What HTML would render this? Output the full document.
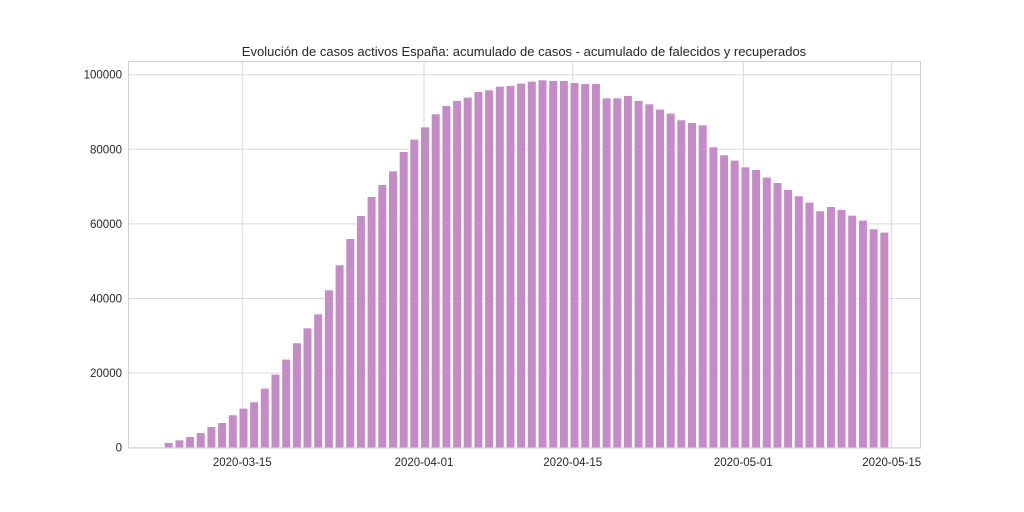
<!DOCTYPE html>
<html><head><meta charset="utf-8"><style>
body{margin:0;background:#fff;}
svg{display:block;font-family:"Liberation Sans","DejaVu Sans",sans-serif;}
</style></head><body>
<svg width="1024" height="512" viewBox="0 0 1024 512" xmlns="http://www.w3.org/2000/svg">
<rect width="1024" height="512" fill="#fff"/>
<g stroke="#d9d9d9" stroke-width="1">
<line x1="128" x2="921" y1="447.7" y2="447.7"/><line x1="128" x2="921" y1="373.1" y2="373.1"/><line x1="128" x2="921" y1="298.5" y2="298.5"/><line x1="128" x2="921" y1="223.9" y2="223.9"/><line x1="128" x2="921" y1="149.3" y2="149.3"/><line x1="128" x2="921" y1="74.7" y2="74.7"/>
<line x1="242.3" x2="242.3" y1="62" y2="448"/><line x1="424" x2="424" y1="62" y2="448"/><line x1="572.7" x2="572.7" y1="62" y2="448"/><line x1="743.3" x2="743.3" y1="62" y2="448"/><line x1="891.7" x2="891.7" y1="62" y2="448"/>
</g>
<g fill="#c48bc6" stroke="#fff" stroke-width="0.6">
<rect x="164.4" y="442.67" width="8.6" height="5.03"/>
<rect x="175.1" y="440" width="8.6" height="7.7"/>
<rect x="185.8" y="436.67" width="8.6" height="11.03"/>
<rect x="196.4" y="432.67" width="8.6" height="15.03"/>
<rect x="207.1" y="426.67" width="8.6" height="21.03"/>
<rect x="217.8" y="422.67" width="8.6" height="25.03"/>
<rect x="228.5" y="415" width="8.6" height="32.7"/>
<rect x="239.2" y="408.33" width="8.6" height="39.37"/>
<rect x="249.8" y="402" width="8.6" height="45.7"/>
<rect x="260.5" y="388.33" width="8.6" height="59.37"/>
<rect x="271.2" y="374.33" width="8.6" height="73.37"/>
<rect x="281.9" y="359.33" width="8.6" height="88.37"/>
<rect x="292.6" y="343" width="8.6" height="104.7"/>
<rect x="303.2" y="328" width="8.6" height="119.7"/>
<rect x="313.9" y="314" width="8.6" height="133.7"/>
<rect x="324.6" y="290" width="8.6" height="157.7"/>
<rect x="335.3" y="265" width="8.6" height="182.7"/>
<rect x="346.0" y="238.67" width="8.6" height="209.03"/>
<rect x="356.6" y="215.67" width="8.6" height="232.03"/>
<rect x="367.3" y="196.67" width="8.6" height="251.03"/>
<rect x="378.0" y="184.67" width="8.6" height="263.03"/>
<rect x="388.7" y="171" width="8.6" height="276.7"/>
<rect x="399.4" y="151.67" width="8.6" height="296.03"/>
<rect x="410.0" y="139.33" width="8.6" height="308.37"/>
<rect x="420.7" y="127" width="8.6" height="320.7"/>
<rect x="431.4" y="114" width="8.6" height="333.7"/>
<rect x="442.1" y="105.67" width="8.6" height="342.03"/>
<rect x="452.8" y="100.67" width="8.6" height="347.03"/>
<rect x="463.4" y="97.33" width="8.6" height="350.37"/>
<rect x="474.1" y="91.67" width="8.6" height="356.03"/>
<rect x="484.8" y="90" width="8.6" height="357.7"/>
<rect x="495.5" y="86.33" width="8.6" height="361.37"/>
<rect x="506.2" y="85.67" width="8.6" height="362.03"/>
<rect x="516.8" y="83.33" width="8.6" height="364.37"/>
<rect x="527.5" y="81.33" width="8.6" height="366.37"/>
<rect x="538.2" y="80" width="8.6" height="367.7"/>
<rect x="548.9" y="80.67" width="8.6" height="367.03"/>
<rect x="559.6" y="80.67" width="8.6" height="367.03"/>
<rect x="570.2" y="82.67" width="8.6" height="365.03"/>
<rect x="580.9" y="83.67" width="8.6" height="364.03"/>
<rect x="591.6" y="83.67" width="8.6" height="364.03"/>
<rect x="602.3" y="98" width="8.6" height="349.7"/>
<rect x="613.0" y="98" width="8.6" height="349.7"/>
<rect x="623.6" y="95.67" width="8.6" height="352.03"/>
<rect x="634.3" y="100.67" width="8.6" height="347.03"/>
<rect x="645.0" y="104" width="8.6" height="343.7"/>
<rect x="655.7" y="109.33" width="8.6" height="338.37"/>
<rect x="666.4" y="113.33" width="8.6" height="334.37"/>
<rect x="677.0" y="120" width="8.6" height="327.7"/>
<rect x="687.7" y="122.67" width="8.6" height="325.03"/>
<rect x="698.4" y="125" width="8.6" height="322.7"/>
<rect x="709.1" y="147" width="8.6" height="300.7"/>
<rect x="719.8" y="155" width="8.6" height="292.7"/>
<rect x="730.4" y="160.33" width="8.6" height="287.37"/>
<rect x="741.1" y="167" width="8.6" height="280.7"/>
<rect x="751.8" y="169.67" width="8.6" height="278.03"/>
<rect x="762.5" y="177.33" width="8.6" height="270.37"/>
<rect x="773.2" y="182.67" width="8.6" height="265.03"/>
<rect x="783.8" y="189.67" width="8.6" height="258.03"/>
<rect x="794.5" y="196" width="8.6" height="251.7"/>
<rect x="805.2" y="202.33" width="8.6" height="245.37"/>
<rect x="815.9" y="211" width="8.6" height="236.7"/>
<rect x="826.6" y="206.67" width="8.6" height="241.03"/>
<rect x="837.2" y="209.67" width="8.6" height="238.03"/>
<rect x="847.9" y="215.33" width="8.6" height="232.37"/>
<rect x="858.6" y="220.33" width="8.6" height="227.37"/>
<rect x="869.3" y="229" width="8.6" height="218.7"/>
<rect x="880.0" y="232.33" width="8.6" height="215.37"/>
</g>
<rect x="128.5" y="61.5" width="792" height="386.5" fill="none" stroke="#d0d0d0" stroke-width="1"/>
<g font-size="11.5" fill="#262626">
<text x="122" y="451.7" text-anchor="end">0</text>
<text x="122" y="377.1" text-anchor="end">20000</text>
<text x="122" y="302.5" text-anchor="end">40000</text>
<text x="122" y="227.9" text-anchor="end">60000</text>
<text x="122" y="153.3" text-anchor="end">80000</text>
<text x="122" y="78.7" text-anchor="end">100000</text>
<text x="242.3" y="466" text-anchor="middle">2020-03-15</text>
<text x="424" y="466" text-anchor="middle">2020-04-01</text>
<text x="572.7" y="466" text-anchor="middle">2020-04-15</text>
<text x="743.3" y="466" text-anchor="middle">2020-05-01</text>
<text x="891.7" y="466" text-anchor="middle">2020-05-15</text>
</g>
<text x="524" y="56" font-size="13" text-anchor="middle" fill="#262626">Evolución de casos activos España: acumulado de casos - acumulado de falecidos y recuperados</text>
</svg>
</body></html>
